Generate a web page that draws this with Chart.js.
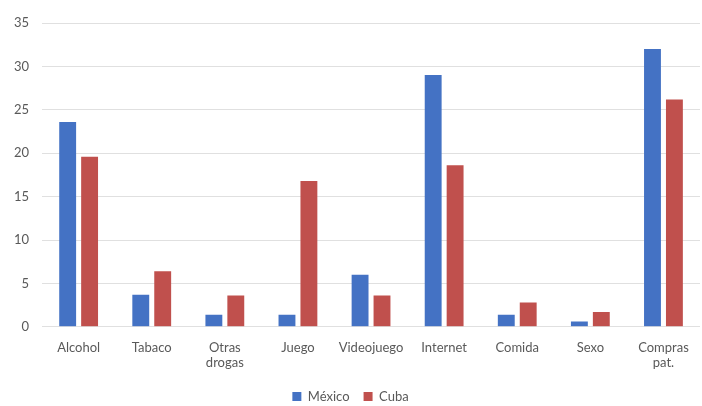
<!DOCTYPE html>
<html>
<head>
<meta charset="utf-8">
<script src="https://cdn.jsdelivr.net/npm/chart.js@4/dist/chart.umd.min.js"></script>
<style>
  html, body { margin: 0; padding: 0; background: #ffffff; }
  #wrap { width: 702px; height: 406px; position: relative; }
</style>
</head>
<body>
<div id="wrap"><canvas id="c" width="702" height="406"></canvas></div>
<script>
// Categories (multi-line labels as arrays)
const categories = [
  'Alcohol', 'Tabaco', ['Otras', 'drogas'], 'Juego', 'Videojuego',
  'Internet', 'Comida', 'Sexo', ['Compras', 'pat.']
];

// Percentages per country
const mexico = [23.6, 3.7, 1.4, 1.4, 6.0, 29.0, 1.4, 0.6, 32.0];
const cuba   = [19.6, 6.4, 3.6, 16.8, 3.6, 18.6, 2.8, 1.7, 26.2];

// Y-axis ticks
const yTicks = [0, 5, 10, 15, 20, 25, 30, 35];

const font = { family: 'Lato, "Open Sans", sans-serif', size: 13 };

new Chart(document.getElementById('c'), {
  type: 'bar',
  data: {
    labels: categories,
    datasets: [
      { label: 'México', data: mexico, backgroundColor: '#4472c4',
        barPercentage: 0.77, categoryPercentage: 0.6 },
      { label: 'Cuba', data: cuba, backgroundColor: '#c0504d',
        barPercentage: 0.77, categoryPercentage: 0.6 }
    ]
  },
  options: {
    responsive: false,
    animation: false,
    devicePixelRatio: 1,
    layout: { padding: { left: 1, right: 2, top: 23, bottom: -7 } },
    plugins: {
      tooltip: { enabled: false },
      legend: {
        position: 'bottom',
        labels: {
          color: '#595959',
          font: font,
          boxWidth: 9,
          boxHeight: 9,
          padding: 14
        }
      }
    },
    scales: {
      x: {
        grid: { display: false },
        border: { display: false },
        ticks: { color: '#595959', font: font, maxRotation: 0, autoSkip: false, padding: 5 }
      },
      y: {
        min: 0,
        max: yTicks[yTicks.length - 1],
        afterBuildTicks: (axis) => { axis.ticks = yTicks.map(v => ({ value: v })); },
        grid: { color: '#e0e0e0', drawTicks: false },
        border: { display: false },
        ticks: { color: '#595959', font: font, padding: 13 }
      }
    }
  }
});
</script>
</body>
</html>
